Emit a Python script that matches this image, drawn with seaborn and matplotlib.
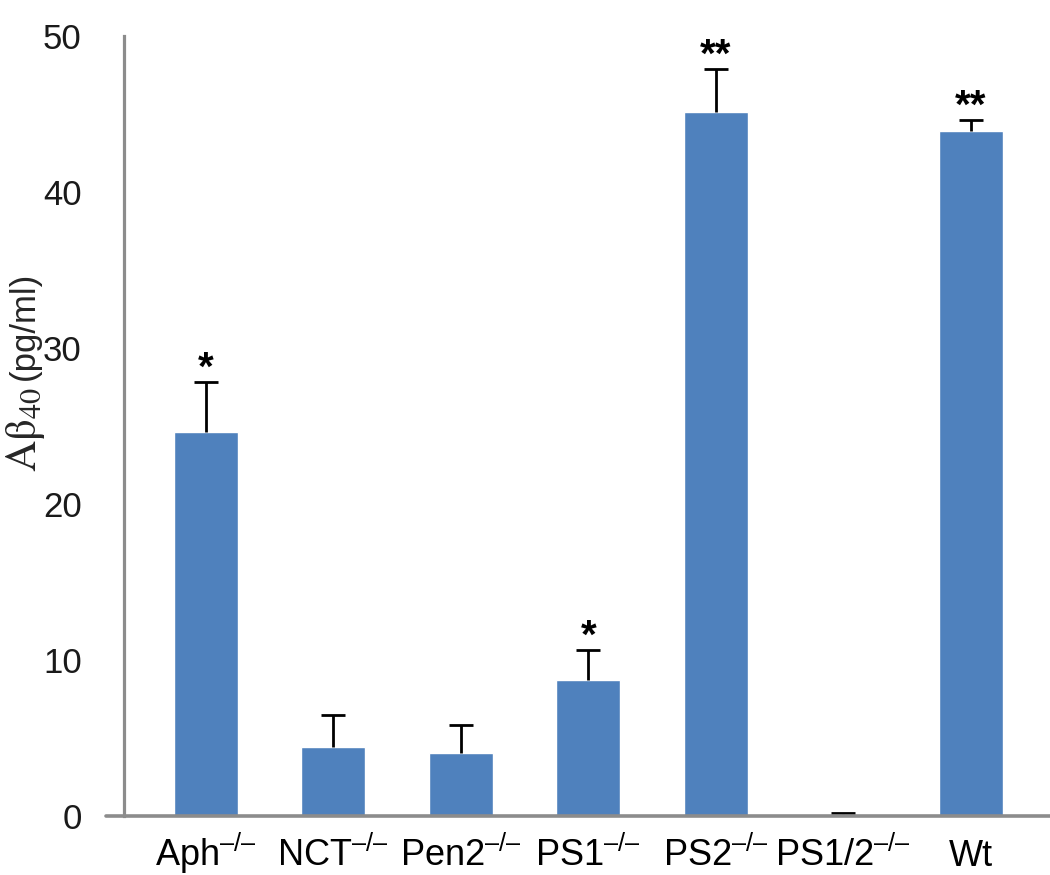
import numpy as np
import matplotlib
matplotlib.use("Agg")
import matplotlib.pyplot as plt
import seaborn as sns

# data
groups = ["Aph", "NCT", "Pen2", "PS1", "PS2", "PS1/2", "Wt"]
knockout = [True, True, True, True, True, True, False]
abeta40 = [24.6, 4.4, 4.05, 8.7, 45.1, 0.0, 43.9]
sem = [3.2, 2.05, 1.8, 1.95, 2.8, 0.2, 0.7]
signif = ["*", "", "", "*", "**", "", "**"]
yticks = [0, 10, 20, 30, 40, 50]

sns.set_style("white")
plt.rcParams["font.family"] = ["Liberation Sans", "DejaVu Sans"]
plt.rcParams["mathtext.fontset"] = "custom"
plt.rcParams["mathtext.rm"] = "Liberation Sans"

bar_color = "#4F81BD"
axis_grey = "#8C8C8C"

fig = plt.figure(figsize=(10.5, 8.75), dpi=100)
ax = fig.add_axes([124 / 1050, 1 - 816 / 875, 1 - 124 / 1050, (816 - 36) / 875])

labels = [g + "$^{\\text{\u2013/\u2013}}$" if ko else g for g, ko in zip(groups, knockout)]
sns.barplot(x=labels, y=abeta40, color=bar_color, saturation=1, width=0.5,
            errorbar=None, ax=ax)

# upper error bars only, with a cap on the top end
centers = [p.get_x() + p.get_width() / 2 for p in ax.patches]
eb = ax.errorbar(centers, abeta40, yerr=[np.zeros(len(sem)), sem], fmt="none",
                 ecolor="black", elinewidth=2.0, capsize=8.3, capthick=2.0, zorder=3)
eb[1][0].set_visible(False)

for xc, v, e, s in zip(centers, abeta40, sem, signif):
    if s:
        ax.text(xc, v + e + 0.15, s, ha="center", va="baseline",
                fontsize=29, fontweight="bold", color="black")

ax.set_xlim(-0.64, 6.62)
ax.set_ylim(0, 50)
ax.set_yticks(yticks)
ax.set_xlabel("")
ax.set_ylabel("")

for side in ["top", "right", "bottom"]:
    ax.spines[side].set_visible(False)
ax.spines["left"].set_color(axis_grey)
ax.spines["left"].set_linewidth(2.3)
ax.axhline(0, xmin=-0.019, xmax=1, color=axis_grey, lw=2.6, clip_on=False, zorder=4)

ax.tick_params(axis="y", direction="out", length=9.5, width=2.3, color=axis_grey,
               pad=21, labelsize=25, labelcolor="#1a1a1a")
ax.tick_params(axis="x", length=0, pad=36, labelsize=26, labelcolor="black")
for lab in ax.get_xticklabels():
    lab.set_verticalalignment("baseline")

# y label: serif A-beta with sans units
fig.text(36 / 1050, 1 - 472 / 875, r"$\mathrm{A\beta}_{40}$", rotation=90,
         rotation_mode="anchor", ha="left", va="baseline", fontsize=31,
         math_fontfamily="stix")
fig.text(34 / 1050, 1 - 380 / 875, "(pg/ml)", rotation=90,
         rotation_mode="anchor", ha="left", va="baseline", fontsize=25)

fig.savefig("out.png", dpi=100)
